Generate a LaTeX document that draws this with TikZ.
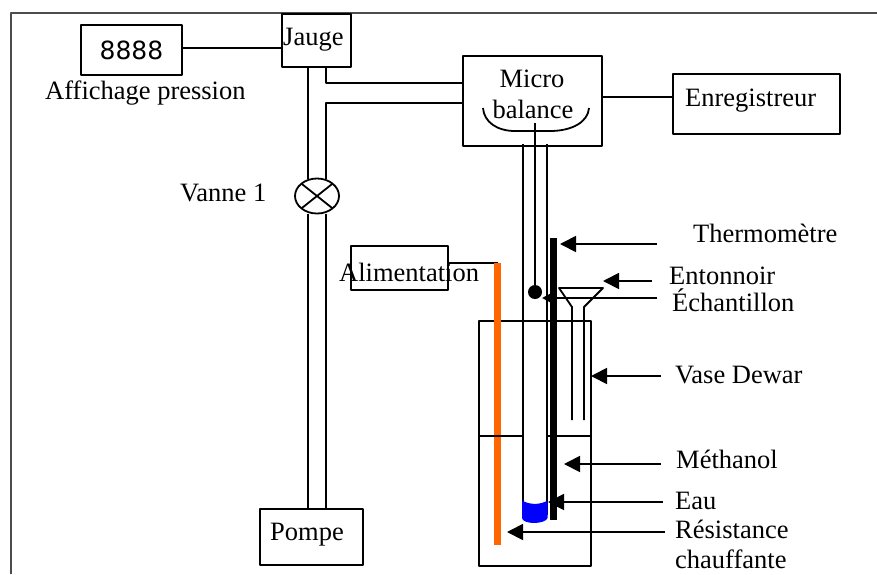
\documentclass[tikz,border=0pt]{standalone}
\usepackage{fontspec}
\setmainfont{Liberation Serif}
\newfontfamily\digitfont{DejaVu Sans}
\usetikzlibrary{arrows.meta,calc,shapes.geometric}
\begin{document}
\begin{tikzpicture}[x=1pt,y=-1pt,>={Triangle[length=16pt,width=16pt]},line join=round,
	txt/.style={inner sep=0pt,anchor=base west,font=\fontsize{26.5}{28}\selectfont},
	boite/.style={draw,line width=1.8pt,inner sep=0pt,outer sep=0pt,anchor=north west},
	fil/.style={line width=1.8pt},
	fleche/.style={line width=1.8pt,->}]
	\useasboundingbox (0,0) rectangle (877,574);
	\def \lg{1.8pt}
	% cadre
	\draw[line width=1.6pt,color=black!70] (11,574) -- (11,13) -- (877,13);
	% boites
	\node[boite,minimum width=101pt,minimum height=50pt] (A) at (81,25) {\digitfont\fontsize{25}{25}\selectfont 8888};
	\node[boite,minimum width=69pt,minimum height=53pt] (J) at (282,14) {};
	\node[boite,minimum width=139pt,minimum height=90pt] (B) at (463,56) {};
	\node[boite,minimum width=167pt,minimum height=60pt] (E) at (673,74) {};
	\node[boite,minimum width=97pt,minimum height=44pt] (L) at (351,246) {};
	\node[boite,minimum width=103pt,minimum height=56pt] (P) at (260,509) {};
	\node[boite,minimum width=112pt,minimum height=245pt] (D) at (479,321) {};
	\node[draw,ellipse,line width=\lg,outer sep=0pt,minimum width=44pt,minimum height=35pt,inner sep=0pt] (V) at (317,196) {};
	% textes
	\node[txt] (tJ) at (283,45) {Jauge};
	\node[txt] (tA) at (45,99) {Affichage pression};
	\node[txt] (tV) at (180,201.5) {Vanne 1};
	\node[txt,anchor=base] (tM) at (532,87) {Micro};
	\node[txt,anchor=base] (tb) at (533,118) {balance};
	\node[txt] (tE) at (685,106) {Enregistreur};
	\node[txt] (tL) at (339,281) {Alimentation};
	\node[txt] (tP) at (270,540) {Pompe};
	\node[txt] (t1) at (693,242) {Thermomètre};
	\node[txt] (t2) at (669,284) {Entonnoir};
	\node[txt] (t3) at (672,311) {Échantillon};
	\node[txt] (t4) at (675,383) {Vase Dewar};
	\node[txt] (t5) at (676,468) {Méthanol};
	\node[txt] (t6) at (675,509) {Eau};
	\node[txt] (t7) at (675,538) {Résistance};
	\node[txt] (t8) at (675,568) {chauffante};
	% liaisons
	\draw[fil] (A.east |- 0,48) -- (J.west |- 0,48);
	\draw[fil] (B.east |- 0,97) -- (E.west |- 0,97);
	\draw[fil] (J.south -| 308,0) -- (V.north -| 308,0);
	\draw[fil] (J.south -| 326,0) -- (326,83) -- (B.west |- 0,83);
	\draw[fil] (V.north -| 326,0) -- (326,103) -- (B.west |- 0,103);
	\draw[fil] (V.south -| 308,0) -- (P.north -| 308,0);
	\draw[fil] (V.south -| 326,0) -- (P.north -| 326,0);
	\draw[fil] (V.north west) -- (V.south east) (V.north east) -- (V.south west);
	\coordinate (R) at (497.5,263);
	\coordinate (S) at (497.5,545);
	\draw[fil] (L.east |- R) -- (R);
	\draw[line width=6.5pt,color={rgb,255:red,255;green,102;blue,0}] (R) -- (S);
	% tube et coupelle
	\draw[fil] (483,108) .. controls (484,122) and (497,131) .. (515,131) -- (550,131) .. controls (572,131) and (588,122) .. (589,108);
	\coordinate (c) at (535,292);
	\draw[fil] (535,123) -- (c);
	\fill (c) circle (7);
	\draw[fil] (523,144) -- (523,515);
	\draw[fil] (547,144) -- (547,515);
	\fill[color=blue] (522,500.5) .. controls (530,505) and (540,505) .. (547.5,500.5) -- (547.5,518) .. controls (547,521) and (540,523) .. (534,523) .. controls (528,523) and (522,521) .. (522,518) -- cycle;
	\draw[fil] (D.west |- 0,436) -- (523,436) (547,436) -- (D.east |- 0,436);
	% thermometre
	\draw[line width=7pt] (553.5,238) -- (553.5,520);
	% entonnoir
	\draw[fil] (572,420) -- (572,307) -- (559,288) -- (603,288) -- (584,307) -- (584,420);
	% fleches
	\coordinate (f1) at (657,244);
	\coordinate (f2) at (652,281);
	\coordinate (f3) at (657,298);
	\coordinate (f4) at (661,376);
	\coordinate (f5) at (661,464);
	\coordinate (f6) at (663,502);
	\coordinate (f7) at (665,532);
	\draw[fleche] (f1) -- (560,244);
	\draw[fleche] (f2) -- (603,281);
	\draw[fil,-{Triangle[length=8pt,width=8pt]}] (f3) -- (542,298);
	\draw[fleche] (f4) -- (D.east |- f4);
	\draw[fleche] (f5) -- (564,464);
	\draw[fleche] (f6) -- (548,502);
	\draw[fleche] (f7) -- (507,532);
\end{tikzpicture}
\end{document}
